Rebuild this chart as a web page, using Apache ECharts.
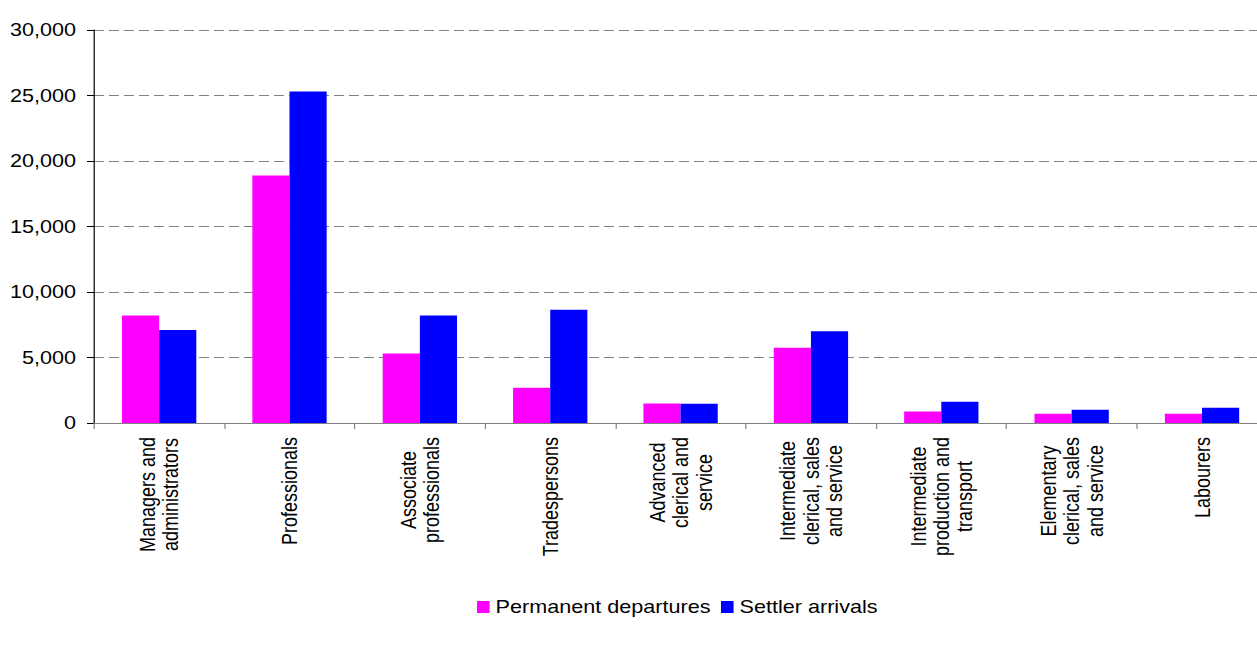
<!DOCTYPE html>
<html>
<head>
<meta charset="utf-8">
<title>Occupation of permanent departures and settler arrivals</title>
<script src="https://cdn.jsdelivr.net/npm/echarts@6/dist/echarts.min.js"></script>
<style>
  html, body { margin: 0; padding: 0; background: #fff; }
  #frame { position: absolute; left: 0; top: 0; width: 1257px; height: 648px; overflow: hidden; background: #fff; }
  /* the chart is laid out on a narrower canvas and widened, giving the broad lettering of the original */
  #chart { position: absolute; left: 0; top: 0; width: 1056px; height: 648px; transform: scaleX(1.2); transform-origin: 0 0; }
</style>
</head>
<body>
<div id="frame"><div id="chart"></div></div>
<script>
const categories = [
  'Managers and\nadministrators',
  'Professionals',
  'Associate\nprofessionals',
  'Tradespersons',
  'Advanced\nclerical and\nservice',
  'Intermediate\nclerical, sales\nand service',
  'Intermediate\nproduction and\ntransport',
  'Elementary\nclerical, sales\nand service',
  'Labourers'
];
const permanentDepartures = [8200, 18900, 5300, 2700, 1480, 5750, 870, 710, 700];
const settlerArrivals = [7100, 25300, 8200, 8650, 1470, 7000, 1630, 1020, 1170];
const yTicks = { min: 0, max: 30000, interval: 5000 };

const FONT = "'Liberation Sans', Arial, Helvetica, sans-serif";

const chart = echarts.init(document.getElementById('chart'), null, { renderer: 'svg' });

chart.setOption({
  animation: false,
  backgroundColor: '#fff',
  textStyle: { fontFamily: FONT, color: '#000' },
  grid: { left: 78.3, right: 0, top: 30, bottom: 225, containLabel: false },
  legend: {
    left: 397.5,
    top: 598,
    padding: 0,
    itemWidth: 10.5,
    itemHeight: 12,
    itemGap: 8.7,
    icon: 'rect',
    textStyle: { fontFamily: FONT, fontSize: 18, color: '#000' },
    data: ['Permanent departures', 'Settler arrivals']
  },
  xAxis: {
    type: 'category',
    data: categories,
    boundaryGap: true,
    axisLine: { show: true, lineStyle: { color: '#808080', width: 1 } },
    axisTick: { show: true, length: 6, inside: false, alignWithLabel: false, lineStyle: { color: '#808080' } },
    axisLabel: {
      interval: 0,
      rotate: 90,
      margin: 14,
      fontFamily: FONT,
      fontSize: 18,
      color: '#000',
      lineHeight: 19.5,
      formatter: function (v) {
        return v.split('\n').map(function (l) { return '{c|' + l + '}'; }).join('\n');
      },
      rich: {
        c: { align: 'center', fontFamily: FONT, fontSize: 18, lineHeight: 19.5, color: '#000' }
      }
    },
    splitLine: { show: false }
  },
  yAxis: {
    type: 'value',
    min: yTicks.min,
    max: yTicks.max,
    interval: yTicks.interval,
    axisLine: { show: true, lineStyle: { color: '#000', width: 1 } },
    axisTick: { show: true, length: 5.8, inside: false, lineStyle: { color: '#000' } },
    axisLabel: {
      margin: 15,
      fontFamily: FONT,
      fontSize: 18,
      color: '#000',
      formatter: function (v) { return v.toLocaleString('en-US'); }
    },
    splitLine: { show: true, lineStyle: { color: '#808080', width: 1, type: [8.3, 4.2] } }
  },
  series: [
    {
      name: 'Permanent departures',
      type: 'bar',
      data: permanentDepartures,
      barGap: '0%',
      barCategoryGap: '43%',
      itemStyle: { color: '#ff00ff' }
    },
    {
      name: 'Settler arrivals',
      type: 'bar',
      data: settlerArrivals,
      barGap: '0%',
      barCategoryGap: '43%',
      itemStyle: { color: '#0000ff' }
    }
  ]
});
</script>
</body>
</html>
